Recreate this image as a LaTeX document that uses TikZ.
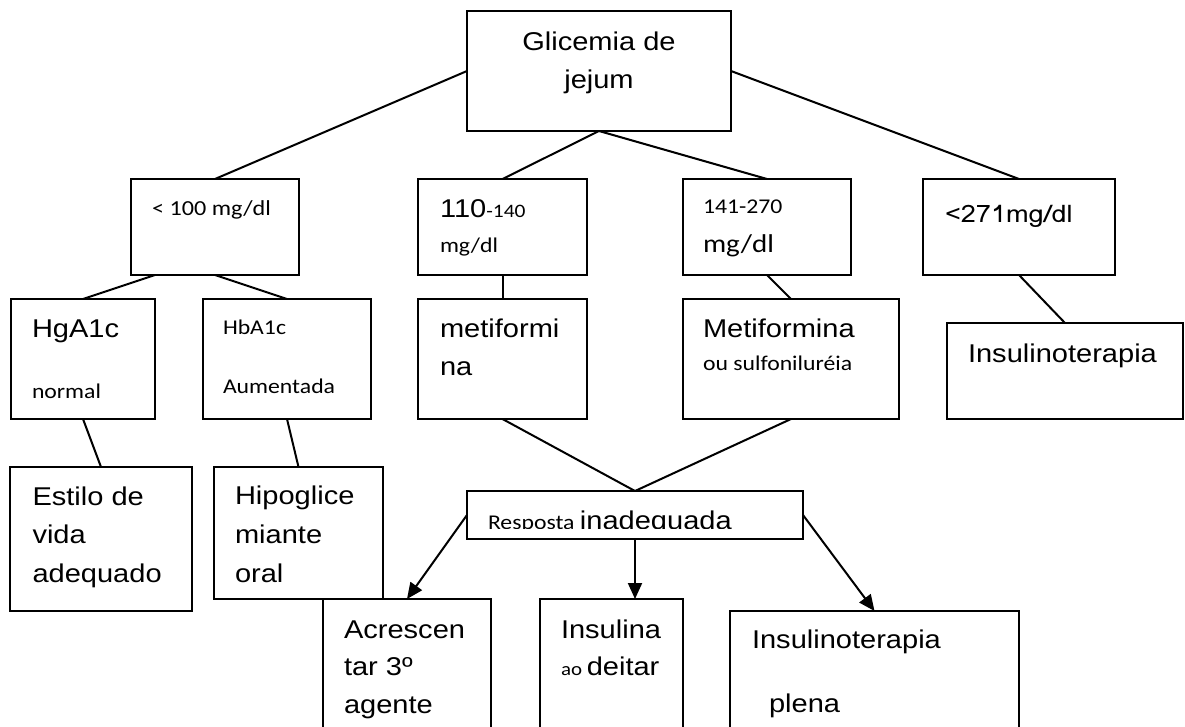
\documentclass[tikz,border=0pt]{standalone}
\usepackage{fontspec}
\setmainfont[FakeStretch=1.13]{Liberation Sans}
\newfontfamily\calfam[FakeStretch=1.13]{Carlito}
\newfontfamily\lomafam[FakeStretch=1.13]{Loma}
\usetikzlibrary{arrows.meta}
\newcommand\arf{\normalfont\fontsize{25.7}{38.5}\selectfont}
\newcommand\calf[1]{\calfam\fontsize{#1}{#1}\selectfont}
\tikzset{
  box/.style={draw, line width=2.2pt, inner sep=0pt, outer sep=0pt},
  lbl/.style={anchor=base west, inner sep=0pt, outer sep=0pt, font=\arf},
  clbl/.style={anchor=base, inner sep=0pt, outer sep=0pt, font=\arf},
  conn/.style={line width=2pt},
  arr/.style={conn, -{Triangle[length=16pt,width=14pt]}}
}
\begin{document}
\begin{tikzpicture}[x=1pt,y=-1pt]
\fill[white] (0,0) rectangle (1185,726);
\clip (0,0) rectangle (1185,726);
% boxes
\node[box, minimum width=264pt, minimum height=120pt] (G) at (599,71) {};
\node[box, minimum width=168pt, minimum height=96pt] (A) at (215,227) {};
\node[box, minimum width=169pt, minimum height=96pt] (B) at (502.5,227) {};
\node[box, minimum width=168pt, minimum height=96pt] (C) at (767,227) {};
\node[box, minimum width=192pt, minimum height=96pt] (D) at (1019,227) {};
\node[box, minimum width=144pt, minimum height=120pt] (E) at (83,359) {};
\node[box, minimum width=168pt, minimum height=120pt] (F) at (287,359) {};
\node[box, minimum width=169pt, minimum height=120pt] (H) at (502.5,359) {};
\node[box, minimum width=216pt, minimum height=120pt] (I) at (791,359) {};
\node[box, minimum width=236pt, minimum height=96pt] (J) at (1065,371) {};
\node[box, minimum width=182pt, minimum height=144pt] (K) at (101,539) {};
\node[box, minimum width=169pt, minimum height=132pt] (L) at (298.5,533) {};
\node[box, minimum width=336pt, minimum height=48pt] (R) at (635,515) {};
\node[box, minimum width=168pt, minimum height=146pt] (M) at (407,672) {};
\node[box, minimum width=143pt, minimum height=146pt] (N) at (611.5,672) {};
\node[box, minimum width=289pt, minimum height=134pt] (P) at (874.5,678) {};
% connectors
\draw[conn] (G.west) -- (A.north);
\draw[conn] (G.south) -- (B.north);
\draw[conn] (G.south) -- (C.north);
\draw[conn] (G.east) -- (D.north);
\draw[conn] ([xshift=24pt]A.south west) -- (E.north);
\draw[conn] (A.south) -- (F.north);
\draw[conn] (B.south) -- (H.north);
\draw[conn] (C.south) -- (I.north);
\draw[conn] (D.south) -- (J.north);
\draw[conn] (E.south) -- (K.north);
\draw[conn] (F.south) -- (L.north);
\draw[conn] (H.south) -- (R.north);
\draw[conn] (I.south) -- (R.north);
\draw[arr] (R.west) -- (M.north);
\draw[arr] (R.south) -- (R.south |- N.north);
\draw[arr] (R.east) -- (P.north);
% texts
\node[clbl] (tG1) at (599,50) {Glicemia de};
\node[clbl] (tG2) at (599,88) {jejum};
\node[lbl] (tA) at (152,215) {\calf{21.4}< 100 mg/dl};
\node[lbl] (tB1) at (440,217) {110\calf{19}-140};
\node[lbl] (tB2) at (440,252) {\calf{21}mg/dl};
\node[lbl] (tC1) at (703,213) {\calf{21}141-270};
\node[lbl] (tC2) at (703,252) {\calf{25.7}mg/dl};
\node[lbl] (tD) at (945,222) {\lomafam\fontsize{24}{24}\selectfont <271mg/dl};
\node[lbl] (tE1) at (32,337) {HgA1c};
\node[lbl] (tE2) at (32,398) {\calf{21}normal};
\node[lbl] (tF1) at (223,334) {\calf{21}HbA1c};
\node[lbl] (tF2) at (223,393) {\calf{21}Aumentada};
\node[lbl] (tH1) at (440,337) {metiformi};
\node[lbl] (tH2) at (440,375) {na};
\node[lbl] (tI1) at (703,337) {Metiformina};
\node[lbl] (tI2) at (703,370) {\calf{21}ou sulfoniluréia};
\node[lbl] (tJ) at (968,362) {Insulinoterapia};
\node[lbl] (tK1) at (32.5,505) {Estilo de};
\node[lbl] (tK2) at (32.5,543) {vida};
\node[lbl] (tK3) at (32.5,582) {adequado};
\node[lbl] (tL1) at (235,504) {Hipoglice};
\node[lbl] (tL2) at (235,543) {miante};
\node[lbl] (tL3) at (235,582) {oral};
\begin{scope}
\clip (468,492) rectangle (802,528.5);
\node[lbl] (tR) at (488,529) {\calf{21}Resposta \arf inadequada};
\end{scope}
\node[lbl] (tM1) at (344,638) {Acrescen};
\node[lbl] (tM2) at (344,675) {tar 3º};
\node[lbl] (tM3) at (344,713) {agente};
\node[lbl] (tN1) at (561,638) {Insulina};
\node[lbl] (tN2) at (561,675) {\calf{18.5}ao \arf deitar};
\node[lbl] (tP1) at (752,648) {Insulinoterapia};
\node[lbl] (tP2) at (769,712) {plena};
\end{tikzpicture}
\end{document}
